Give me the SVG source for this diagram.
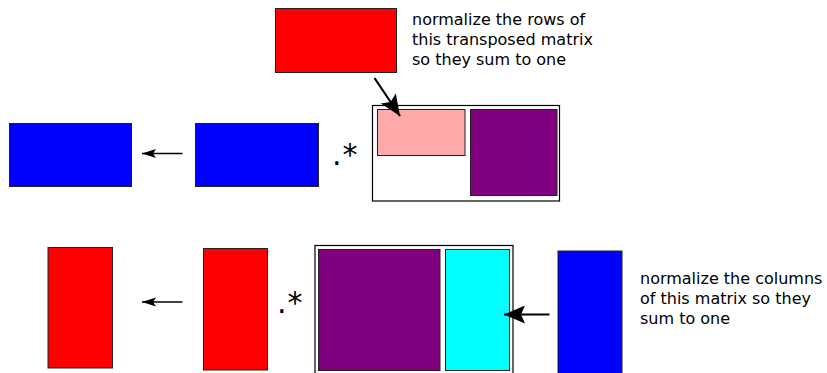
<svg xmlns="http://www.w3.org/2000/svg" width="827" height="373" viewBox="0 0 827 373">
  <style>
    .box { stroke: #222; stroke-width: 1; }
    .frame { fill: #fff; stroke: #000; stroke-width: 1.2; }
    .blue { fill: #0000ff; }
    .red { fill: #ff0000; }
    .purple { fill: #800080; }
    .pink { fill: #ffaaaa; }
    .cyan { fill: #00ffff; }
    .label { font-family: "DejaVu Sans", sans-serif; font-size: 16px; fill: #000; }
    .op { font-family: "DejaVu Sans", sans-serif; font-size: 30px; letter-spacing: 1px; fill: #000; }
    .conn { stroke: #000; fill: none; }
  </style>
  <defs>
    <marker id="arrowSmall" markerUnits="userSpaceOnUse" markerWidth="16" markerHeight="12" refX="14" refY="5" orient="auto" overflow="visible">
      <path d="M0,0.5 L14,5 L0,9.5 L3,5 Z" fill="#000"/>
    </marker>
    <marker id="arrowBig" markerUnits="userSpaceOnUse" markerWidth="24" markerHeight="20" refX="21" refY="9" orient="auto" overflow="visible">
      <path d="M0,0 L21,9 L0,18 L4,9 Z" fill="#000"/>
    </marker>
  </defs>

  <!-- Top row -->
  <g id="top-result">
    <rect class="box blue" x="9.5" y="123.5" width="122" height="63"/>
  </g>
  <g id="top-operand">
    <rect class="box blue" x="195.5" y="123.5" width="123" height="63"/>
  </g>
  <g id="top-op">
    <text class="op" x="332" y="165">.*</text>
  </g>
  <g id="top-matrix">
    <rect class="frame" x="372.5" y="105.5" width="187" height="95.5"/>
    <rect class="box pink" x="377.5" y="109.5" width="87.5" height="46"/>
    <rect class="box purple" x="470.5" y="109.5" width="86.5" height="86"/>
  </g>
  <g id="top-source">
    <rect class="box red" x="275.5" y="8.5" width="121" height="64"/>
  </g>
  <g id="top-note">
    <text class="label" x="412" y="25">normalize the rows of</text>
    <text class="label" x="412" y="45">this transposed matrix</text>
    <text class="label" x="412" y="65">so they sum to one</text>
  </g>

  <!-- Bottom row -->
  <g id="bottom-result">
    <rect class="box red" x="48" y="247.5" width="64.5" height="120.5"/>
  </g>
  <g id="bottom-operand">
    <rect class="box red" x="203.5" y="248.5" width="64" height="121.5"/>
  </g>
  <g id="bottom-op">
    <text class="op" x="277" y="313">.*</text>
  </g>
  <g id="bottom-matrix">
    <rect class="frame" x="315" y="245.5" width="198" height="132"/>
    <rect class="box purple" x="318.5" y="249.5" width="121.5" height="121"/>
    <rect class="box cyan" x="445.5" y="249.5" width="64" height="121"/>
  </g>
  <g id="bottom-source">
    <rect class="box blue" x="558" y="251" width="64" height="125"/>
  </g>
  <g id="bottom-note">
    <text class="label" x="640" y="284">normalize the columns</text>
    <text class="label" x="640" y="304">of this matrix so they</text>
    <text class="label" x="640" y="324">sum to one</text>
  </g>

  <!-- Connectors -->
  <g id="connectors">
    <line class="conn" x1="182.5" y1="153.5" x2="142" y2="153.5" stroke-width="1.6" marker-end="url(#arrowSmall)"/>
    <line class="conn" x1="182.5" y1="302" x2="142" y2="302" stroke-width="1.6" marker-end="url(#arrowSmall)"/>
    <line class="conn" x1="374.5" y1="78" x2="400" y2="116" stroke-width="2.2" marker-end="url(#arrowBig)"/>
    <line class="conn" x1="549.5" y1="314.5" x2="504" y2="314.5" stroke-width="2.2" marker-end="url(#arrowBig)"/>
  </g>
</svg>
